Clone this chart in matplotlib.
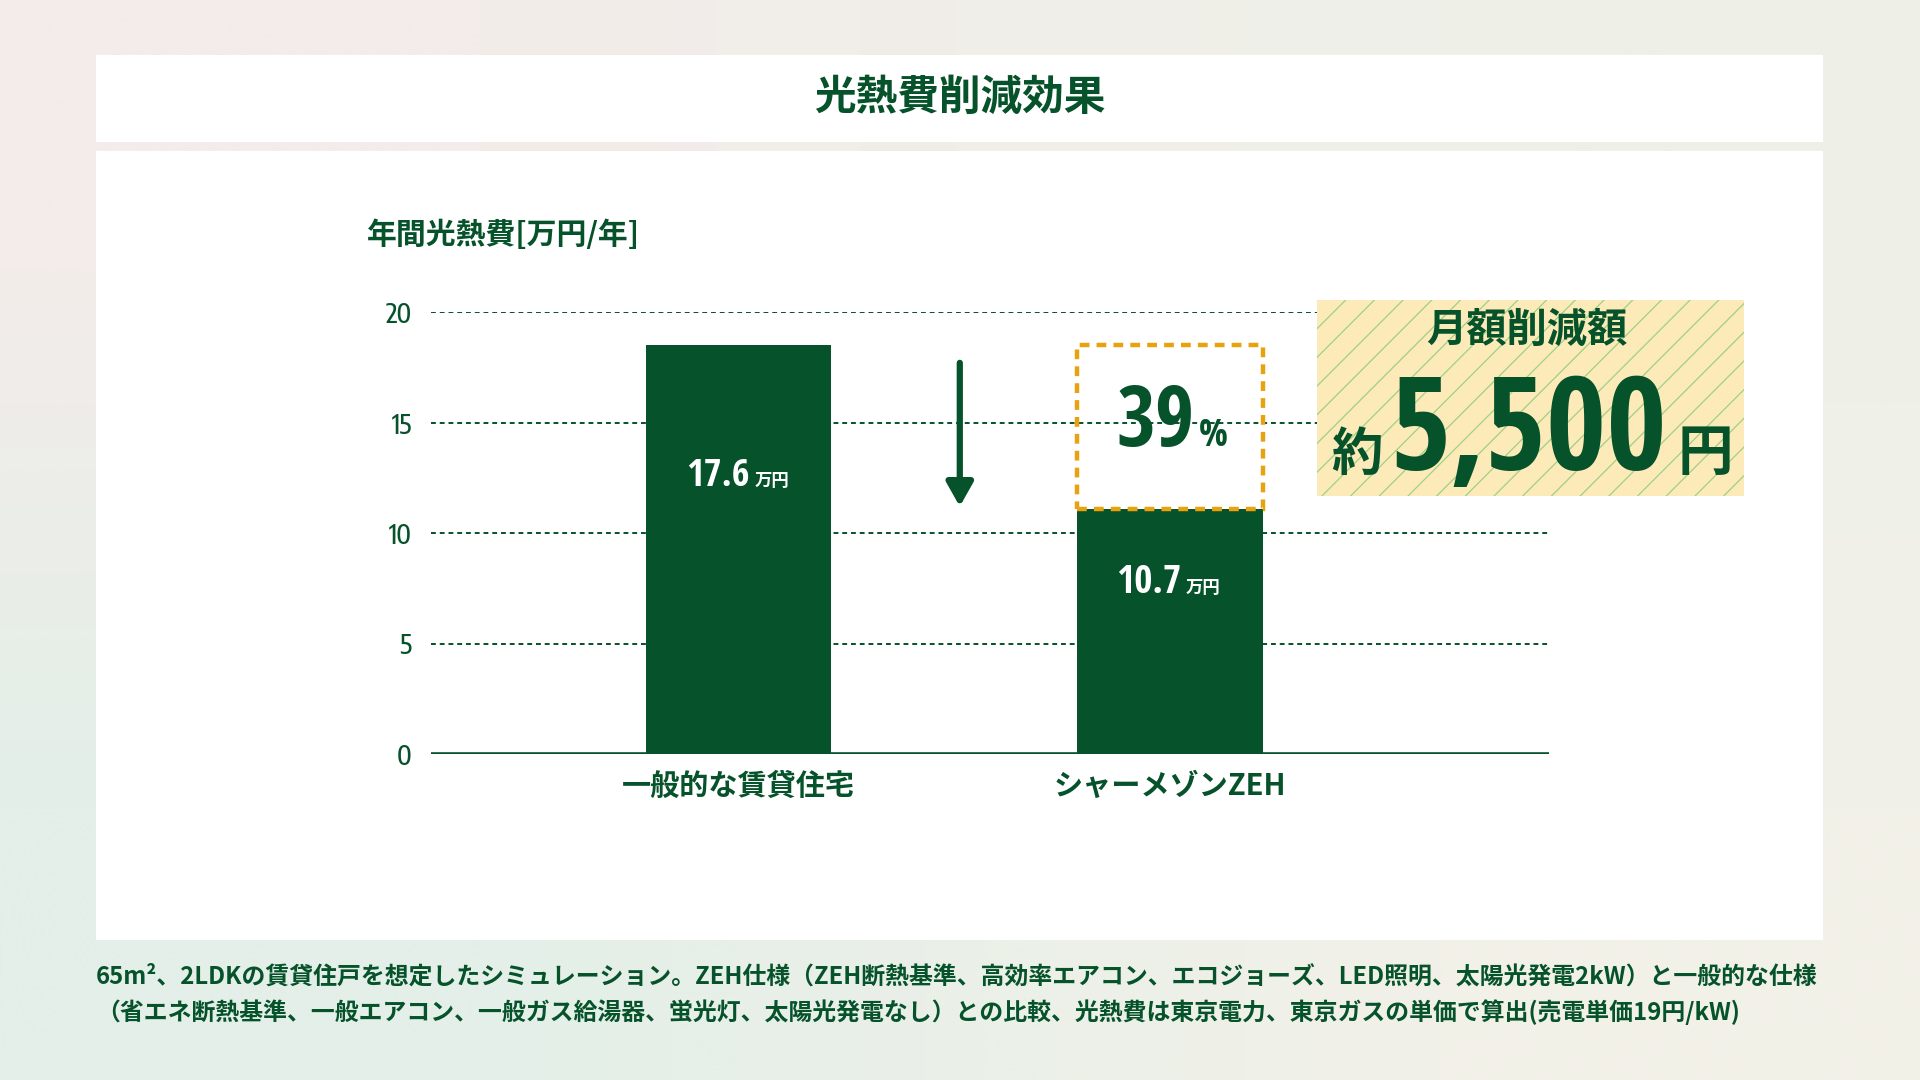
import numpy as np
import matplotlib
matplotlib.use("Agg")
import matplotlib.pyplot as plt
from matplotlib.patches import Rectangle
from matplotlib import font_manager as fm
from matplotlib.font_manager import FontProperties
from matplotlib.textpath import TextPath
from matplotlib.transforms import offset_copy

# ---------------- data ----------------
categories = ["一般的な賃貸住宅", "シャーメゾンZEH"]
bar_heights = [18.5, 11.1]          # heights as drawn in the picture
bar_labels = ["17.6", "10.7"]       # printed values
unit_label = "万円"
y_ticks = [0, 5, 10, 15, 20]
y_tick_labels = ["0", "5", "10", "15", "20"]
reduction_pct = "39"
monthly_saving = "5,500"
title = "光熱費削減効果"
y_axis_title = "年間光熱費[万円/年]"
box_title = "月額削減額"
footnote = ["65m²、2LDKの賃貸住戸を想定したシミュレーション。ZEH仕様（ZEH断熱基準、高効率エアコン、エコジョーズ、LED照明、太陽光発電2kW）と一般的な仕様",
            "（省エネ断熱基準、一般エアコン、一般ガス給湯器、蛍光灯、太陽光発電なし）との比較、光熱費は東京電力、東京ガスの単価で算出(売電単価19円/kW)"]

GREEN = "#06522A"
ORANGE = "#E8A20F"
YELLOW = "#FCEBB9"
HATCH = "#9FCF86"

CJK = ["Noto Sans CJK JP", "DejaVu Sans"]
plt.rcParams["font.family"] = CJK


def wnum(w):
    if isinstance(w, (int, float)):
        return int(w)
    return {"bold": 700, "heavy": 800, "black": 900, "semibold": 600, "demibold": 600,
            "medium": 500, "normal": 400, "regular": 400, "book": 400, "light": 300}.get(str(w).lower(), 400)


SANS_KEYS = ["sans", "roboto", "lato", "inter"]


def pick_font(target_ratio, wmin, wmax):
    """Pick an installed sans font whose '5,500' width / '5' height is closest to the reference."""
    best, best_err = None, 1e9
    seen = set()
    for f in fm.fontManager.ttflist:
        nm = f.name.lower()
        fn = f.fname.lower().split("/")[-1]
        if f.fname in seen:
            continue
        seen.add(f.fname)
        if not any(k in nm for k in SANS_KEYS):
            continue
        if "mono" in nm or "mono" in fn or "serif" in fn or "cjk" in nm or "italic" in fn or "oblique" in fn:
            continue
        if "display" in fn or "display" in nm:
            continue
        if str(f.style).lower() != "normal":
            continue
        w = wnum(f.weight)
        if w < wmin or w > wmax:
            continue
        try:
            fp = FontProperties(fname=f.fname)
            wd = TextPath((0, 0), "5,500", prop=fp, size=100).get_extents().width
            ht = TextPath((0, 0), "5", prop=fp, size=100).get_extents().height
        except Exception:
            continue
        if ht <= 0:
            continue
        err = abs(wd / ht - target_ratio)
        if err < best_err:
            best, best_err = f.fname, err
    return best


fb = pick_font(2.71, 650, 900)
fr = pick_font(2.75, 450, 650) or fb
NUMB = FontProperties(fname=fb) if fb else FontProperties(family=CJK, weight="bold")
NUMR = FontProperties(fname=fr) if fr else NUMB

W, H = 1920, 1080
fig = plt.figure(figsize=(19.2, 10.8), dpi=100)

# background
bg = fig.add_axes([0, 0, 1, 1], zorder=0)
bg.set_xlim(0, W); bg.set_ylim(H, 0); bg.axis("off")
corners = np.array([[[0xF3, 0xEC, 0xEA], [0xEE, 0xF0, 0xE8]],
                    [[0xE3, 0xEF, 0xE8], [0xF2, 0xF1, 0xE8]]]) / 255.0
bg.imshow(corners, extent=(0, W, H, 0), interpolation="bilinear", aspect="auto")
bg.add_patch(Rectangle((96, 55), 1727, 87, facecolor="white", edgecolor="none"))
bg.add_patch(Rectangle((96, 151), 1727, 789, facecolor="white", edgecolor="none"))
bg.text(960, 98, title, ha="center", va="center", fontsize=30, fontweight="bold", color=GREEN)
bg.text(367, 235, y_axis_title, ha="left", va="center", fontsize=21.5, fontweight="bold", color=GREEN)
bg.text(96, 977, footnote[0], ha="left", va="center", fontsize=17.2, fontweight="bold", color=GREEN)
bg.text(96, 1012, footnote[1], ha="left", va="center", fontsize=17.2, fontweight="bold", color=GREEN)

# chart axes
x0, x1, yb, yt = 431, 1549, 754, 312
ax = fig.add_axes([x0 / W, (H - yb) / H, (x1 - x0) / W, (yb - yt) / H], zorder=1)
ax.patch.set_alpha(0)
ax.set_xlim(-0.712, 1.878)
ax.set_ylim(0, 20)
for s in ax.spines.values():
    s.set_visible(False)
ax.set_xticks([])
ax.set_yticks(y_ticks)
ax.set_yticklabels(y_tick_labels, color=GREEN)
tick_fp = NUMR.copy()
tick_fp.set_size(19)
for t in ax.get_yticklabels():
    t.set_fontproperties(tick_fp)
ax.tick_params(axis="y", length=0, pad=14)
ax.hlines(y_ticks[1:], -0.712, 1.878, colors=GREEN, linestyles=(0, (2.5, 2.0)), linewidth=1.4, zorder=1)
ax.axhline(0, color=GREEN, linewidth=2.6, zorder=3)

xs = np.arange(len(categories))
ax.bar(xs, bar_heights, width=0.43, color=GREEN, zorder=2)

fit_texts = []   # (text, target width px, target cap height px)
for xi, h, lab, tw in zip(xs, bar_heights, bar_labels, [60, 66]):
    tr_num = offset_copy(ax.transData, fig=fig, x=11, y=0, units="dots")
    tr_unit = offset_copy(ax.transData, fig=fig, x=16, y=0, units="dots")
    fp = NUMB.copy(); fp.set_size(30)
    t = ax.text(xi, h * 0.655, lab, transform=tr_num, ha="right", va="baseline",
                fontproperties=fp, color="white", zorder=4)
    fit_texts.append((t, tw, 28))
    ax.text(xi, h * 0.655, unit_label, transform=tr_unit, ha="left", va="baseline",
            fontsize=12.5, fontweight="bold", color="white", zorder=4)

for xi, lab in zip(xs, categories):
    tr = offset_copy(ax.transData, fig=fig, x=0, y=-32, units="dots")
    ax.text(xi, 0, lab, transform=tr, ha="center", va="center", fontsize=21,
            fontweight="bold", color=GREEN)

# dashed reduction box
ax.add_patch(Rectangle((xs[1] - 0.215, bar_heights[1]), 0.43, bar_heights[0] - bar_heights[1],
                       fill=False, edgecolor=ORANGE, linewidth=3.2, linestyle=(0, (2.2, 1.6)), zorder=5))
tr39 = offset_copy(ax.transData, fig=fig, x=25, y=0, units="dots")
trp = offset_copy(ax.transData, fig=fig, x=29, y=0, units="dots")
fp39 = NUMB.copy(); fp39.set_size(66)
t39 = ax.text(xs[1], 13.95, reduction_pct, transform=tr39, ha="right", va="baseline",
              fontproperties=fp39, color=GREEN)
fit_texts.append((t39, 82, 62))
fpp = NUMB.copy(); fpp.set_size(32)
tp = ax.text(xs[1], 13.95, "%", transform=trp, ha="left", va="baseline",
             fontproperties=fpp, color=GREEN)
fit_texts.append((tp, 40, 28))

# arrow
ax.annotate("", xy=(0.513, 11.2), xytext=(0.513, 17.7),
            arrowprops=dict(arrowstyle="-|>,head_length=0.8,head_width=0.45", lw=4.5,
                            color=GREEN, mutation_scale=18, shrinkA=0, shrinkB=0), zorder=4)

# overlay for the saving box
ov = fig.add_axes([0, 0, 1, 1], zorder=2)
ov.set_xlim(0, W); ov.set_ylim(H, 0); ov.axis("off")
bx, by, bw, bh = 1317, 300, 427, 196
box = Rectangle((bx, by), bw, bh, facecolor=YELLOW, edgecolor="none", zorder=1)
ov.add_patch(box)
for k in range(-10, 25):
    xa = bx + k * 28.7
    ln, = ov.plot([xa - bh, xa], [by + bh, by], color=HATCH, linewidth=0.9, zorder=2)
    ln.set_clip_path(box)
ov.text(1527, 330, box_title, ha="center", va="center", fontsize=29, fontweight="bold", color=GREEN, zorder=3)
fp55 = NUMB.copy(); fp55.set_size(110)
t55 = ov.text(1529, 470, monthly_saving, ha="center", va="baseline", fontproperties=fp55,
              color=GREEN, zorder=3)
fit_texts.append((t55, 266, 98))

# fit numeric texts: match width, but never taller than the reference
for t, tw, th in fit_texts:
    fs = t.get_fontsize()
    fpx = t.get_fontproperties()
    wd = TextPath((0, 0), t.get_text(), prop=fpx, size=fs).get_extents().width * 100 / 72
    ht = TextPath((0, 0), t.get_text()[0], prop=fpx, size=fs).get_extents().height * 100 / 72
    t.set_fontsize(fs * min(tw / wd, th / ht))
fig.canvas.draw()
r = fig.canvas.get_renderer()
bb = t55.get_window_extent(r)
ov.text(bb.x0 - 8, 470, "約", ha="right", va="baseline", fontsize=37, fontweight="bold", color=GREEN, zorder=3)
ov.text(bb.x1 + 10, 470, "円", ha="left", va="baseline", fontsize=40, fontweight="bold", color=GREEN, zorder=3)

fig.savefig("out.png", dpi=100)
